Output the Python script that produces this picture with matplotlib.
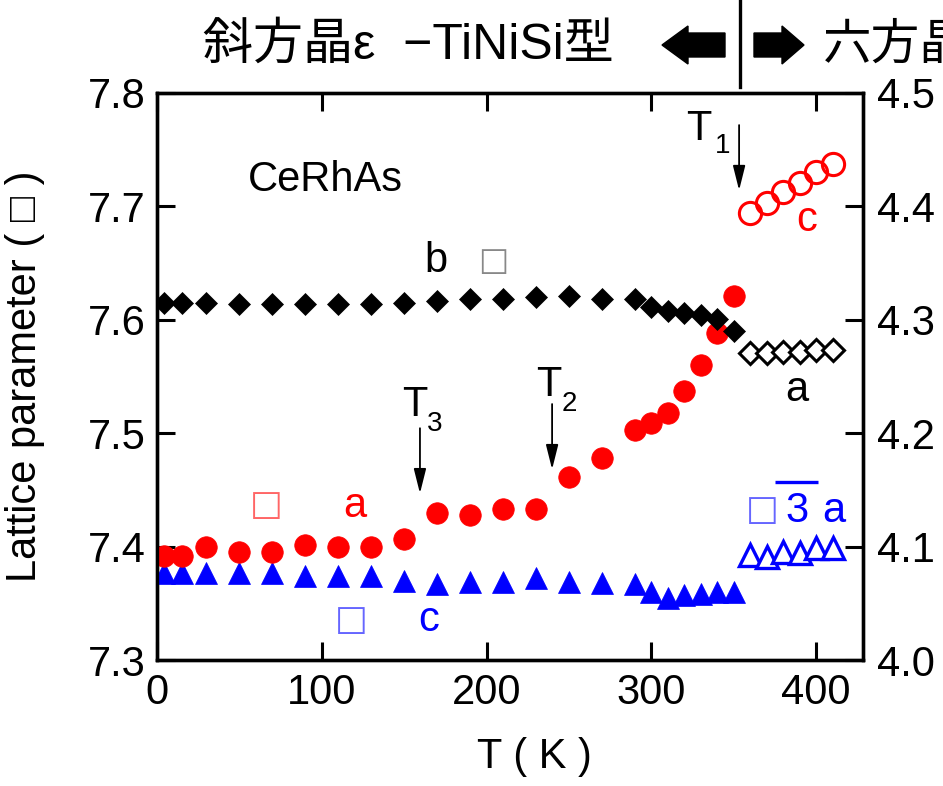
import matplotlib
matplotlib.use('Agg')
import matplotlib.pyplot as plt
from matplotlib.patches import Polygon
from matplotlib.lines import Line2D

plt.rcParams['font.family'] = ['Liberation Sans', 'DejaVu Sans']

W, H = 943, 786

# orthorhombic phase (TiNiSi type)
T_orth = [4, 15, 30, 50, 70, 90, 110, 130, 150, 170, 190, 210, 230, 250,
          270, 290, 300, 310, 320, 330, 340, 350]
a_orth = [7.392, 7.392, 7.400, 7.395, 7.395, 7.401, 7.400, 7.400, 7.407,
          7.430, 7.428, 7.433, 7.433, 7.461, 7.478, 7.503, 7.509, 7.518,
          7.537, 7.560, 7.588, 7.621]
b_orth = [4.315, 4.315, 4.315, 4.314, 4.314, 4.314, 4.314, 4.314, 4.315,
          4.317, 4.318, 4.318, 4.320, 4.321, 4.318, 4.318, 4.311, 4.308,
          4.306, 4.304, 4.301, 4.290]
c_orth = [7.377, 7.377, 7.377, 7.377, 7.377, 7.374, 7.374, 7.374, 7.370,
          7.367, 7.369, 7.369, 7.372, 7.369, 7.368, 7.367, 7.360, 7.355,
          7.357, 7.358, 7.360, 7.360]

# hexagonal phase
T_hex = [360, 370, 380, 390, 400, 410]
a_hex = [4.271, 4.271, 4.272, 4.272, 4.273, 4.273]
c_hex = [4.394, 4.403, 4.413, 4.421, 4.430, 4.437]
a_hex_r3 = [7.393, 7.391, 7.395, 7.394, 7.399, 7.399]

left_ticks = [7.3, 7.4, 7.5, 7.6, 7.7, 7.8]
right_ticks = [4.0, 4.1, 4.2, 4.3, 4.4, 4.5]
x_ticks = [0, 100, 200, 300, 400]

RED = '#ff0000'
BLUE = '#0000ff'
FS = 30
BOX = '\u25a1'


def fpos(x, y):
    return x / W, 1 - y / H


fig = plt.figure(figsize=(W / 100, H / 100), dpi=100)
ax = fig.add_axes([157 / W, 1 - 660 / H, 706 / W, 567 / H])
ax2 = ax.twinx()

ax2.plot(T_orth, b_orth, 'D', color='k', ms=11.5, mew=0.5, zorder=3)
ax.plot(T_orth, c_orth, '^', color=BLUE, ms=15.5, mew=0.5, zorder=3)
ax.plot(T_orth, a_orth, 'o', color=RED, ms=15.5, mew=0.5, zorder=4)
ax2.plot(T_hex, a_hex, 'D', mfc='white', mec='k', ms=11, mew=2.2, zorder=3)
ax2.plot(T_hex, c_hex, 'o', mfc='none', mec=RED, ms=16, mew=2.2, zorder=3)
ax.plot(T_hex, a_hex_r3, '^', mfc='white', mec=BLUE, ms=16, mew=2.4, zorder=3)

ax.set_xlim(0, 428.5)
ax.set_ylim(7.3, 7.8)
ax2.set_ylim(4.0, 4.5)
ax.set_xticks(x_ticks)
ax.set_yticks(left_ticks)
ax2.set_yticks(right_ticks)
ax.set_yticklabels([f'{v:.1f}' for v in left_ticks])
ax2.set_yticklabels([f'{v:.1f}' for v in right_ticks])

for a in (ax, ax2):
    for sp in a.spines.values():
        sp.set_linewidth(2.4)
ax.tick_params(axis='x', direction='in', length=13, width=2.2, labelsize=FS,
               pad=9, top=True)
ax.tick_params(axis='y', direction='in', length=13, width=2.2, labelsize=FS,
               pad=8)
ax2.tick_params(axis='y', direction='in', length=13, width=2.2, labelsize=FS,
                pad=10)

ax.set_xlabel('T ( K )', fontsize=FS)
ax.xaxis.set_label_coords(0.535, -0.135)
ax.set_ylabel('Lattice parameter ( ' + BOX + ' )', fontsize=FS)
ax.yaxis.set_label_coords(-0.158, 0.5)

# labels inside the plot
ax.text(102, 7.7133, 'CeRhAs', fontsize=FS, ha='center', va='baseline')
ax.text(169.3, 7.6425, 'b', fontsize=FS, ha='center', va='baseline')
ax.text(204, 7.6435, BOX, fontsize=23, color='#888888', ha='center',
        va='baseline', family='DejaVu Sans')
ax.text(66.2, 7.4275, BOX, fontsize=25, color='#ff6666', ha='center',
        va='baseline', family='DejaVu Sans')
ax.text(120.2, 7.4265, 'a', fontsize=FS, color=RED, ha='center', va='baseline')
ax.text(117.8, 7.3267, BOX, fontsize=25, color='#6666ff', ha='center',
        va='baseline', family='DejaVu Sans')
ax.text(165.1, 7.3257, 'c', fontsize=FS, color=BLUE, ha='center',
        va='baseline')
ax.text(394.5, 7.6779, 'c', fontsize=FS, color=RED, ha='center',
        va='baseline')
ax.text(388.4, 7.5283, 'a', fontsize=FS, color='k', ha='center',
        va='baseline')
ax.text(367.2, 7.4231, BOX, fontsize=25, color='#6666ff', ha='center',
        va='baseline', family='DejaVu Sans')
ax.text(388.4, 7.4221, '3', fontsize=FS, color=BLUE, ha='center',
        va='baseline')
ax.text(410.9, 7.4221, 'a', fontsize=FS, color=BLUE, ha='center',
        va='baseline')
ax.plot([375.1, 401.2], [7.4566, 7.4566], color=BLUE, lw=2.4,
        solid_capstyle='butt', clip_on=False)

# transition temperatures
for name, sub, xt, yt, xs, ys, xa, y0, y1 in [
        ('T', '3', 156.3, 7.515, 163.9, 7.5018, 159.6, 7.5044, 7.4469),
        ('T', '2', 237.6, 7.5327, 245.8, 7.5195, 239.8, 7.5257, 7.4681),
        ('T', '1', 329.0, 7.7584, 338.7, 7.7469, 353.3, 7.7717, 7.7142)]:
    ax.text(xt, yt, name, fontsize=FS, ha='center', va='baseline')
    ax.text(xs, ys, sub, fontsize=20, ha='left', va='baseline')
    ax.annotate('', xy=(xa, y1), xytext=(xa, y0),
                arrowprops=dict(arrowstyle='-|>,head_length=1.0,head_width=0.25',
                                mutation_scale=15, lw=1.3, color='k',
                                shrinkA=0, shrinkB=0))

# phase header above the axes
fig.text(*fpos(203, 45), '斜方晶ε  −TiNiSi型', fontsize=36, ha='left',
         va='center', family=['Liberation Sans', 'Noto Sans CJK JP'])
fig.text(*fpos(823, 45), '六方晶', fontsize=35, ha='left', va='center',
         family=['Noto Sans CJK JP'])

left_arrow = [(662, 45), (688, 26), (688, 33), (725, 33), (725, 57),
              (688, 57), (688, 64)]
right_arrow = [(804, 45), (782, 26), (782, 33), (754, 33), (754, 57),
               (782, 57), (782, 64)]
for pts in (left_arrow, right_arrow):
    fig.patches.append(Polygon([fpos(x, y) for x, y in pts], closed=True,
                               transform=fig.transFigure, color='k'))
fig.lines.append(Line2D([740 / W, 740 / W], [1, 1 - 87 / H], color='k',
                        lw=2.4, transform=fig.transFigure))

fig.savefig('out.png', dpi=100)
